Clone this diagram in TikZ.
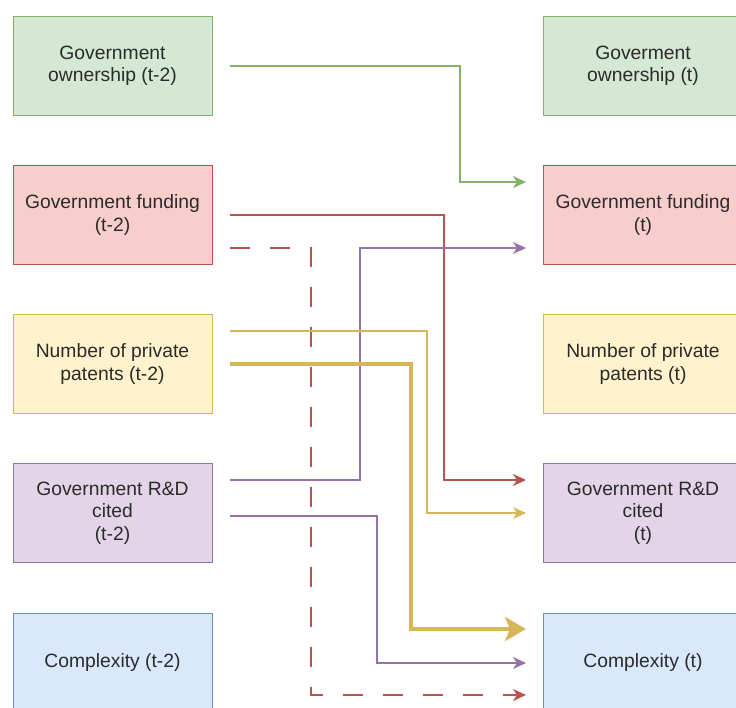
\documentclass[tikz,border=0pt]{standalone}
\usepackage{fontspec}
\setmainfont{Liberation Sans}
\usetikzlibrary{arrows.meta}
\definecolor{gfill}{HTML}{D5E8D4}\definecolor{gline}{HTML}{82B366}
\definecolor{rfill}{HTML}{F8CECC}\definecolor{rline}{HTML}{B85450}
\definecolor{yfill}{HTML}{FFF2CC}\definecolor{yline}{HTML}{D6B656}
\definecolor{pfill}{HTML}{E1D5E7}\definecolor{pline}{HTML}{9673A6}
\definecolor{bfill}{HTML}{DAE8FC}\definecolor{bline}{HTML}{6C8EBF}
\definecolor{txt}{HTML}{2B2B2B}
\begin{document}
\begin{tikzpicture}[x=1pt,y=-1pt,
  box/.style={draw, line width=1pt, minimum width=199pt, minimum height=99pt, inner sep=0pt,
    align=center, font=\fontsize{19.3}{22.5}\selectfont, text=txt},
  conn/.style={line width=1.2pt, -{Stealth[length=13pt,width=12pt,inset=4pt]}},
  thick conn/.style={line width=4pt, -{Stealth[length=21pt,width=24pt,inset=5pt]}},
  dashconn/.style={conn, dash pattern=on 20pt off 20pt}]
\useasboundingbox (0,0) rectangle (736,707);
\clip (0,0) rectangle (736,707);
% left column
\node[box, fill=gfill, draw=gline] (a1) at (112.5,66) {Government\\ownership (t-2)};
\node[box, fill=rfill, draw=rline] (a2) at (112.5,215) {Government funding\\(t-2)};
\node[box, fill=yfill, draw=yline] (a3) at (112.5,364) {Number of private\\patents (t-2)};
\node[box, fill=pfill, draw=pline] (a4) at (112.5,513) {Government R\&D\\cited\\(t-2)};
\node[box, fill=bfill, draw=bline] (a5) at (112.5,663) {Complexity (t-2)};
% right column
\node[box, fill=gfill, draw=gline] (b1) at (643,66) {Goverment\\ownership (t)};
\node[box, fill=rfill, draw=rline] (b2) at (643,215) {Government funding\\(t)};
\node[box, fill=yfill, draw=yline] (b3) at (643,364) {Number of private\\patents (t)};
\node[box, fill=pfill, draw=pline] (b4) at (643,513) {Government R\&D\\cited\\(t)};
\node[box, fill=bfill, draw=bline] (b5) at (643,663) {Complexity (t)};
% connectors
\draw[conn, gline] ([xshift=17pt]a1.east) -| (460,182) -- ([xshift=-17pt,yshift=33pt]b2.west);
\draw[conn, rline] ([xshift=17pt]a2.east) -| (444,480) -- ([xshift=-17pt,yshift=33pt]b4.west);
\draw[dashconn, rline] ([xshift=17pt,yshift=-33pt]a2.east) -| (311,695) -- ([xshift=-17pt,yshift=-32pt]b5.west);
\draw[conn, pline] ([xshift=17pt,yshift=33pt]a4.east) -| (360,248) -- ([xshift=-17pt,yshift=-33pt]b2.west);
\draw[conn, yline] ([xshift=17pt,yshift=33pt]a3.east) -| (427,513) -- ([xshift=-17pt]b4.west);
\draw[thick conn, yline] ([xshift=17pt]a3.east) -| (411,629) -- ([xshift=-17pt,yshift=34pt]b5.west);
\draw[conn, pline] ([xshift=17pt,yshift=-3pt]a4.east) -| (377,663) -- ([xshift=-17pt]b5.west);
\end{tikzpicture}
\end{document}
